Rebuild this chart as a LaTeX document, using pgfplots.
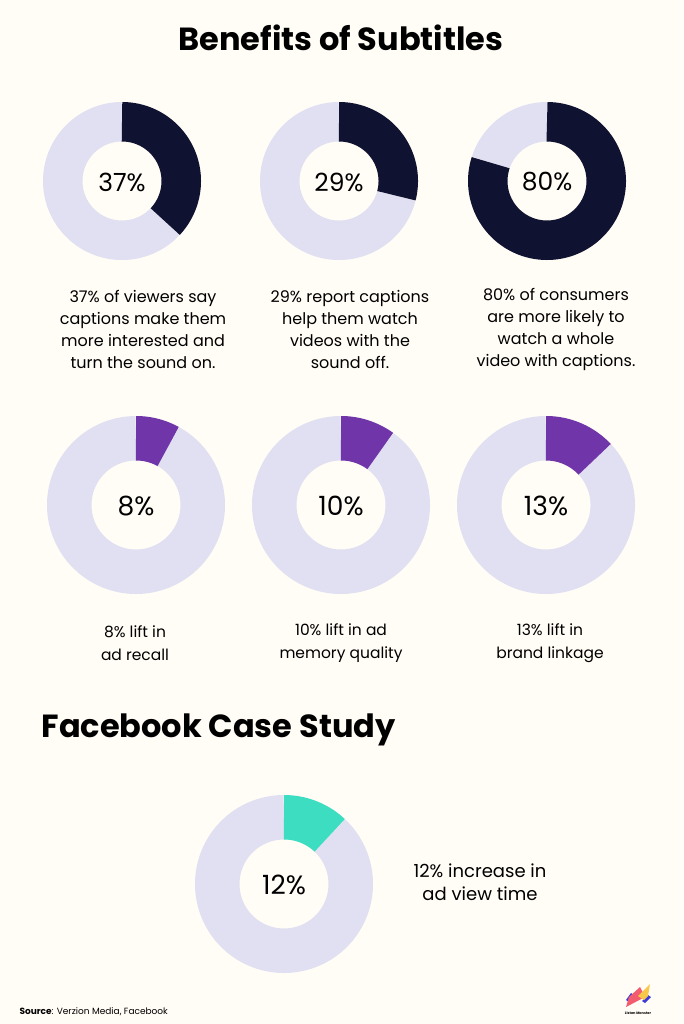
\documentclass[border=0pt]{standalone}
\usepackage{pgfplots}
\pgfplotsset{compat=1.18}
\usepackage{fontspec}
\setmainfont{Poppins}
\definecolor{bg}{HTML}{FFFDF5}
\definecolor{navy}{HTML}{0F1230}
\definecolor{lav}{HTML}{E0E0F2}
\definecolor{purp}{HTML}{7035A8}
\definecolor{teal}{HTML}{3DDDC1}
\definecolor{lblue}{HTML}{3C3CD6}
\definecolor{lred}{HTML}{F25C6E}
\definecolor{lyel}{HTML}{F8C84A}
% cx, cy, rmid, ring width, pct, colour
\newcommand{\donut}[6]{%
  \addplot[draw=lav, line width=#4bp, domain=-270:{90-3.6*#5}, samples=150, no marks]
    ({#1+#3*cos(x)},{#2-#3*sin(x)});
  \addplot[draw=#6, line width=#4bp, domain={90-3.6*#5}:90, samples=100, no marks]
    ({#1+#3*cos(x)},{#2-#3*sin(x)});
}
\begin{document}
\begin{tikzpicture}
\begin{axis}[
  width=683bp, height=1024bp, scale only axis,
  xmin=0, xmax=683, ymin=0, ymax=1024, y dir=reverse,
  axis lines=none, clip=false, ticks=none]
\fill[bg] (axis cs:0,0) rectangle (axis cs:683,1024);
\node[font=\fontsize{32bp}{38bp}\selectfont\bfseries] at (axis cs:341,38) {Benefits of Subtitles};
% row 1
\donut{122}{181}{59.25}{39.5}{37}{navy}
\donut{339}{181}{59.25}{39.5}{29}{navy}
\donut{547}{181}{59.25}{39.5}{80}{navy}
\node[font=\fontsize{25bp}{30bp}\selectfont] at (axis cs:122,182) {37\%};
\node[font=\fontsize{25bp}{30bp}\selectfont] at (axis cs:339,182) {29\%};
\node[font=\fontsize{25bp}{30bp}\selectfont] at (axis cs:547,182) {80\%};
\node[font=\fontsize{16bp}{22bp}\selectfont, align=center] at (axis cs:143,329)
  {37\% of viewers say\\captions make them\\more interested and\\turn the sound on.};
\node[font=\fontsize{16bp}{22bp}\selectfont, align=center] at (axis cs:350,329)
  {29\% report captions\\help them watch\\videos with the\\sound off.};
\node[font=\fontsize{16bp}{22bp}\selectfont, align=center] at (axis cs:556,329)
  {80\% of consumers\\are more likely to\\watch a whole\\video with captions.};
% row 2
\donut{136}{505}{66.75}{44.5}{8}{purp}
\donut{341}{505}{66.75}{44.5}{10}{purp}
\donut{546}{505}{66.75}{44.5}{13}{purp}
\node[font=\fontsize{26.5bp}{32bp}\selectfont] at (axis cs:136,506) {8\%};
\node[font=\fontsize{26.5bp}{32bp}\selectfont] at (axis cs:341,506) {10\%};
\node[font=\fontsize{26.5bp}{32bp}\selectfont] at (axis cs:546,506) {13\%};
\node[font=\fontsize{15.5bp}{23bp}\selectfont, align=center] at (axis cs:135,643)
  {8\% lift in\\ad recall};
\node[font=\fontsize{15.5bp}{23bp}\selectfont, align=center] at (axis cs:341,643)
  {10\% lift in ad\\memory quality};
\node[font=\fontsize{15.5bp}{23bp}\selectfont, align=center] at (axis cs:550,643)
  {13\% lift in\\brand linkage};
% case study
\node[font=\fontsize{32bp}{38bp}\selectfont\bfseries, anchor=west] at (axis cs:38,730) {Facebook Case Study};
\donut{284}{884}{66.75}{44.5}{12}{teal}
\node[font=\fontsize{26.5bp}{32bp}\selectfont] at (axis cs:284,885) {12\%};
\node[font=\fontsize{18bp}{23.5bp}\selectfont, align=center] at (axis cs:480,882)
  {12\% increase in\\ad view time};
% source
\node[font=\fontsize{9bp}{11bp}\selectfont, anchor=west] at (axis cs:16,1012)
  {\textbf{Source}: Verzion Media, Facebook};
% logo
\fill[lblue] (axis cs:626,1000) -- (axis cs:631,993) -- (axis cs:634,995) -- (axis cs:629,1002) -- cycle;
\fill[lblue] (axis cs:642,1001) -- (axis cs:648,995) -- (axis cs:651,997) -- (axis cs:645,1003) -- cycle;
\fill[lred] (axis cs:626,1007) -- (axis cs:629,997) -- (axis cs:640,987) -- (axis cs:645,997) -- cycle;
\fill[lyel] (axis cs:638,996) -- (axis cs:650,984) -- (axis cs:648,996) -- (axis cs:644,1000) -- cycle;
\node[font=\fontsize{3.5bp}{4bp}\selectfont\bfseries] at (axis cs:638,1013) {Listen Monster};
\end{axis}
\end{tikzpicture}
\end{document}
